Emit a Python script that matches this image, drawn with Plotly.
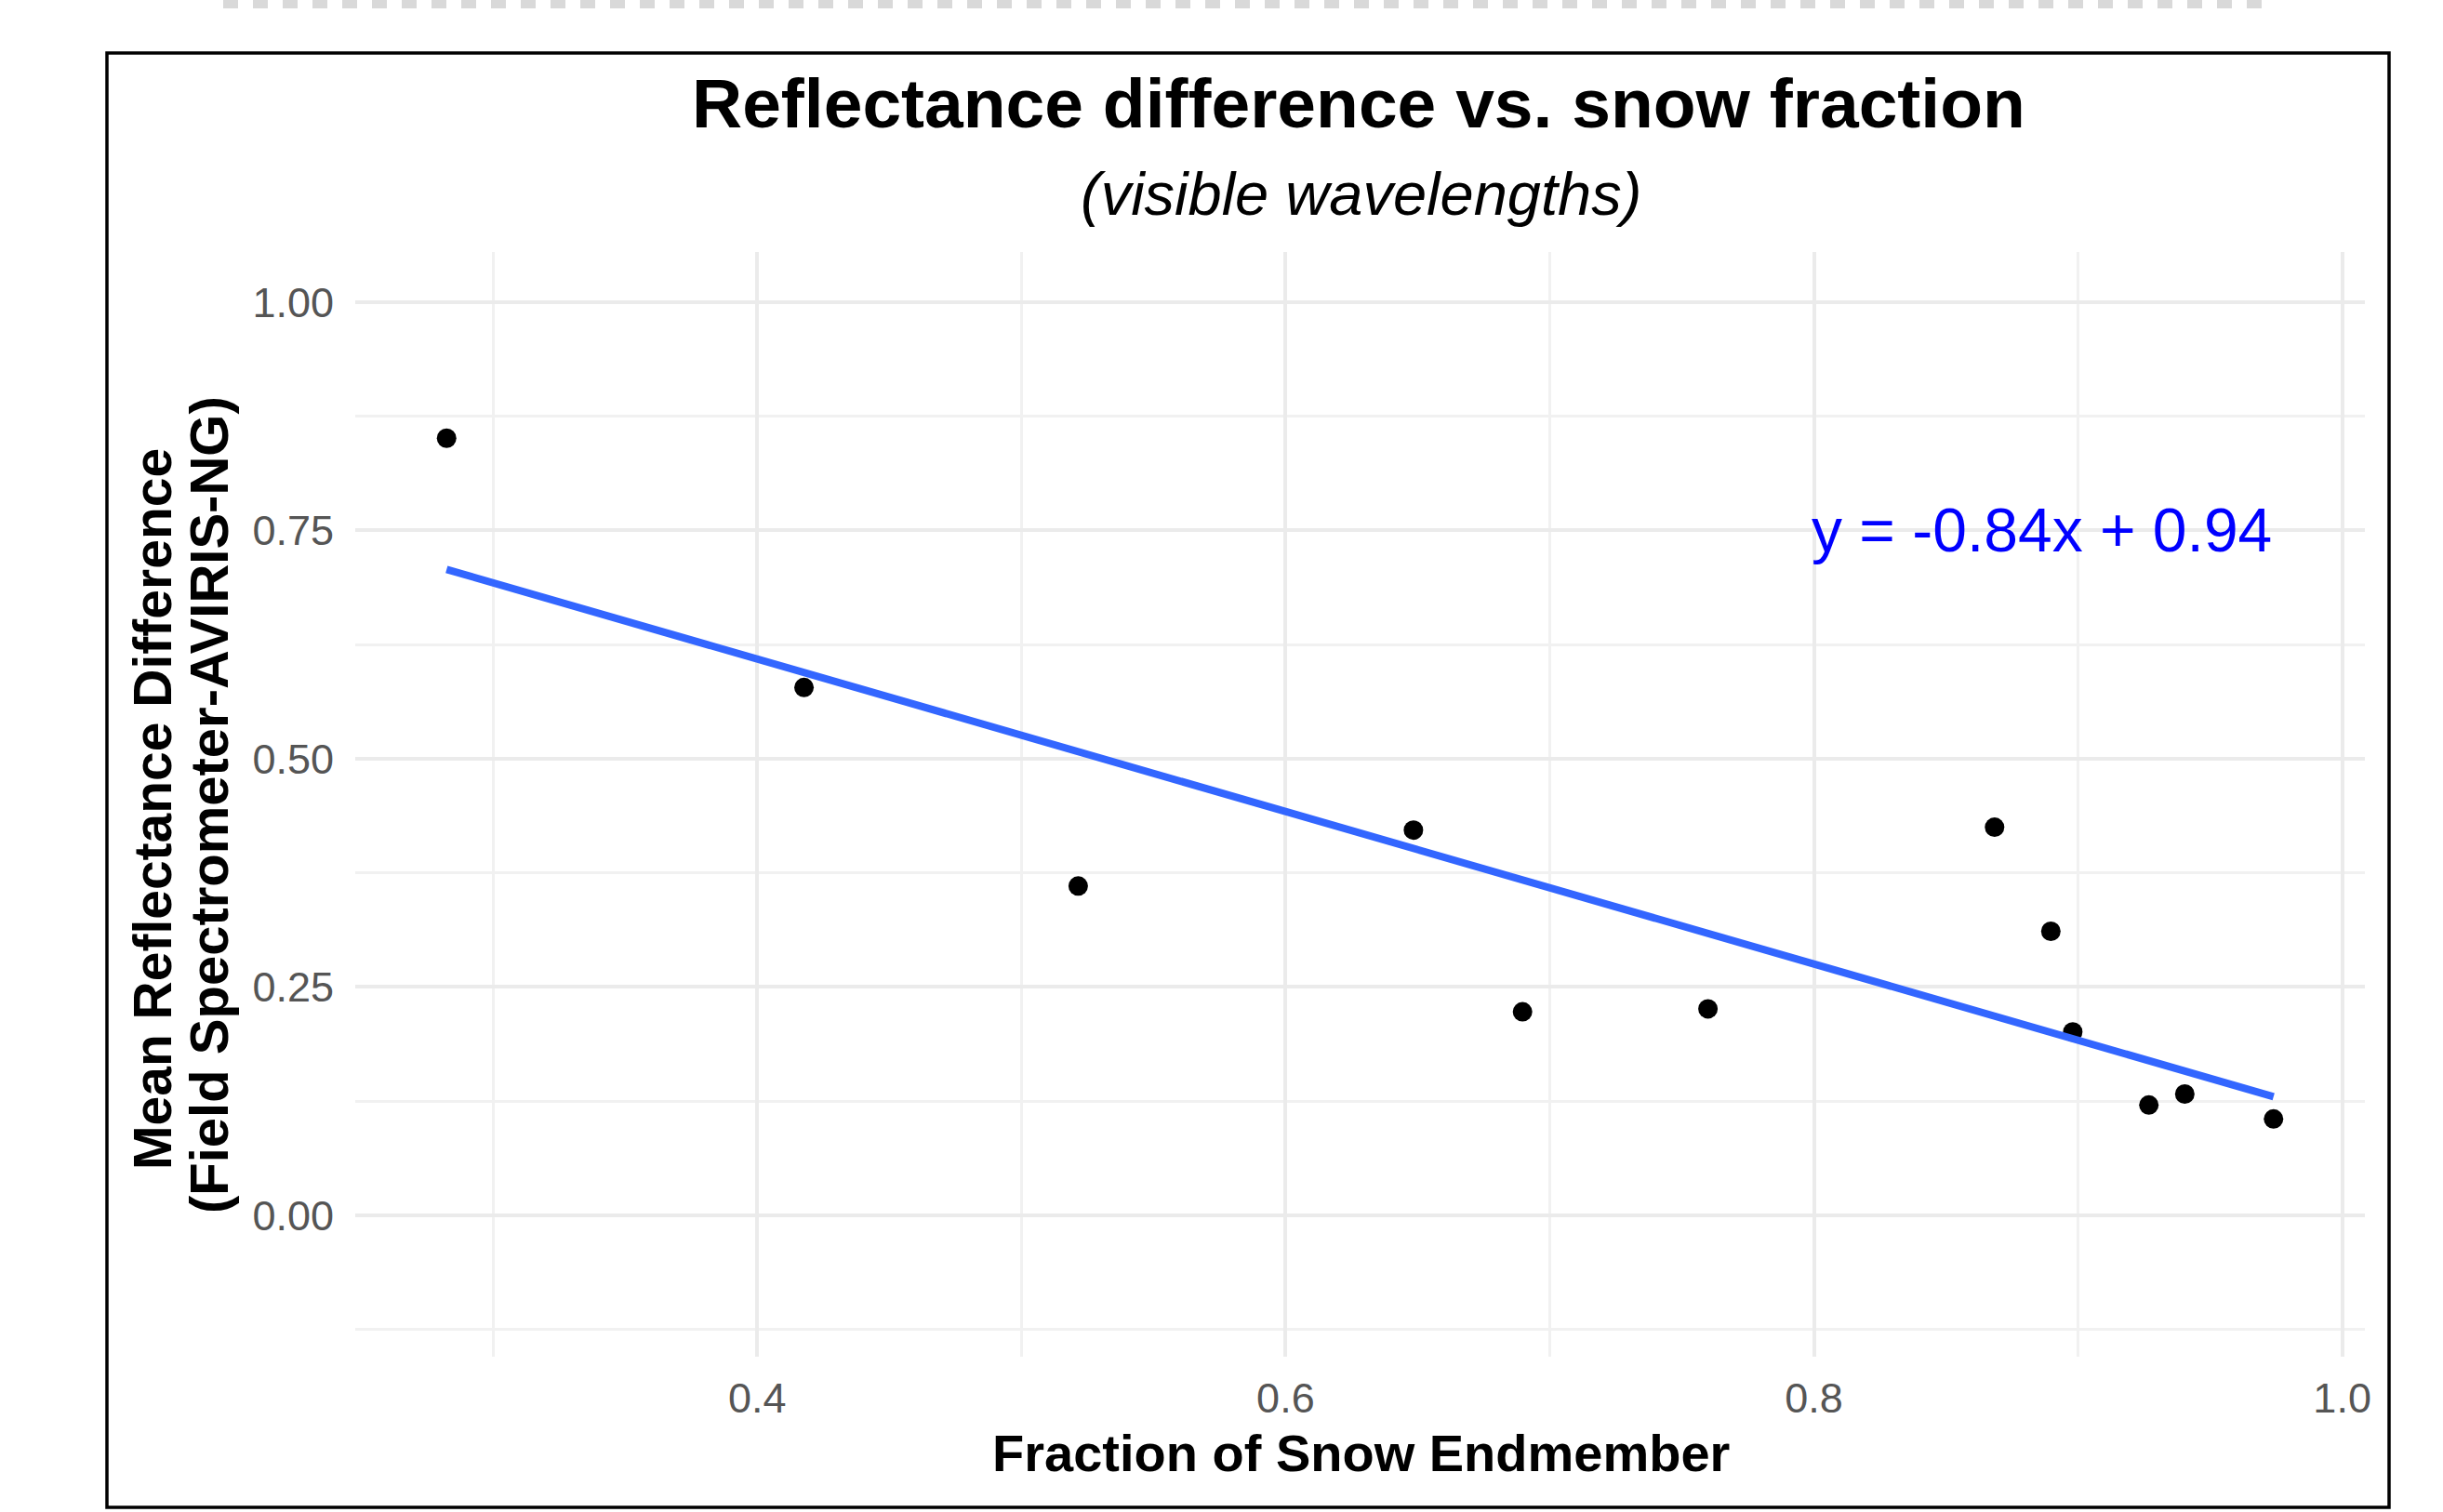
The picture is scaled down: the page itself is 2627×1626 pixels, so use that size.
import numpy as np
import plotly.graph_objects as go

# ---- data ----
snow_fraction = [0.2824, 0.4177, 0.5215, 0.6484, 0.6897, 0.7599,
                 0.8684, 0.8897, 0.8980, 0.9268, 0.9404, 0.9740]
refl_diff = [0.851, 0.578, 0.3605, 0.4218, 0.2228, 0.2260,
             0.4250, 0.3110, 0.2007, 0.1207, 0.1327, 0.1054]
x_ticks = [0.4, 0.6, 0.8, 1.0]
x_tick_labels = ["0.4", "0.6", "0.8", "1.0"]
y_ticks = [0.0, 0.25, 0.5, 0.75, 1.0]
y_tick_labels = ["0.00", "0.25", "0.50", "0.75", "1.00"]
equation_label = "y = -0.84x + 0.94"
title_text = "Reflectance difference vs. snow fraction"
subtitle_text = "(visible wavelengths)"
x_title = "Fraction of Snow Endmember"
y_title_lines = ["Mean Reflectance Difference", "(Field Spectrometer-AVIRIS-NG)"]

# ---- layout geometry (pixels) ----
W, H = 2627, 1626
PL, PR, PT, PB = 382, 2543, 271, 1459


def px2x(px):
    return (px - PL) / (PR - PL)


def py2y(py):
    return (PB - py) / (PB - PT)


FONT = "Liberation Sans, Arial, Helvetica, sans-serif"

x = np.array(snow_fraction)
y = np.array(refl_diff)
slope, intercept = np.polyfit(x, y, 1)
x_line = np.array([x.min(), x.max()])
y_line = slope * x_line + intercept

xr = x.max() - x.min()
x_range = [x.min() - 0.05 * xr, x.max() + 0.05 * xr]
y_lim = [-0.1, 1.0]
yr = y_lim[1] - y_lim[0]
y_range = [y_lim[0] - 0.05 * yr, y_lim[1] + 0.05 * yr]

fig = go.Figure()
fig.add_trace(go.Scatter(x=snow_fraction, y=refl_diff, mode="markers",
                         marker=dict(color="black", size=21, line=dict(width=0)),
                         showlegend=False, hoverinfo="x+y"))
fig.add_trace(go.Scatter(x=x_line, y=y_line, mode="lines",
                         line=dict(color="#3366FF", width=8),
                         showlegend=False, hoverinfo="skip"))

grid_major = "#ebebeb"
grid_minor = "#f1f1f1"

fig.update_layout(
    width=W, height=H,
    margin=dict(l=PL, r=W - PR, t=PT, b=H - PB, pad=0),
    paper_bgcolor="white", plot_bgcolor="white",
    font=dict(family=FONT, color="#4d4d4d"),
    xaxis=dict(range=x_range, tickvals=x_ticks, ticktext=x_tick_labels,
               showgrid=True, gridcolor=grid_major, gridwidth=4,
               zeroline=False, showline=False, ticks="",
               tickfont=dict(size=45, color="#555555", family=FONT),
               ticklabelstandoff=14,
               minor=dict(tickvals=[0.3, 0.5, 0.7, 0.9], showgrid=True,
                          gridcolor=grid_minor, gridwidth=2.5, ticks="")),
    yaxis=dict(range=y_range, tickvals=y_ticks, ticktext=y_tick_labels,
               showgrid=True, gridcolor=grid_major, gridwidth=4,
               zeroline=False, showline=False, ticks="",
               tickfont=dict(size=45, color="#555555", family=FONT),
               ticklabelstandoff=22,
               minor=dict(tickvals=[-0.125, 0.125, 0.375, 0.625, 0.875], showgrid=True,
                          gridcolor=grid_minor, gridwidth=2.5, ticks="")),
)

annotations = [
    dict(text="<b>" + title_text + "</b>", x=px2x(1461), y=py2y(111),
         xref="paper", yref="paper", xanchor="center", yanchor="middle",
         showarrow=False, font=dict(size=75, color="black", family=FONT)),
    dict(text="<i>" + subtitle_text + "</i>", x=px2x(1463), y=py2y(208),
         xref="paper", yref="paper", xanchor="center", yanchor="middle",
         showarrow=False, font=dict(size=65, color="black", family=FONT)),
    dict(text="<b>" + x_title + "</b>", x=px2x(1463), y=py2y(1562),
         xref="paper", yref="paper", xanchor="center", yanchor="middle",
         showarrow=False, font=dict(size=56, color="black", family=FONT)),
    dict(text="<b>" + y_title_lines[0] + "</b>", x=px2x(164), y=py2y(870),
         xref="paper", yref="paper", xanchor="center", yanchor="middle",
         textangle=-90, showarrow=False, font=dict(size=57, color="black", family=FONT)),
    dict(text="<b>" + y_title_lines[1] + "</b>", x=px2x(224), y=py2y(866),
         xref="paper", yref="paper", xanchor="center", yanchor="middle",
         textangle=-90, showarrow=False, font=dict(size=58, color="black", family=FONT)),
    dict(text=equation_label, x=float(x.max()), y=0.75, xref="x", yref="y",
         xanchor="right", yanchor="middle", showarrow=False,
         font=dict(size=66, color="blue", family=FONT)),
]
fig.update_layout(annotations=annotations)

shapes = [
    dict(type="rect", xref="paper", yref="paper",
         x0=px2x(115), x1=px2x(2569), y0=py2y(1621), y1=py2y(57),
         line=dict(color="black", width=3.5), fillcolor="rgba(0,0,0,0)", layer="above"),
    dict(type="line", xref="paper", yref="paper",
         x0=px2x(240), x1=px2x(2438), y0=py2y(4.5), y1=py2y(4.5),
         line=dict(color="#d9d9d9", width=9, dash="16px,16px")),
]
fig.update_layout(shapes=shapes)

fig.write_html("out.html", config={"displayModeBar": False},
               post_script="document.body.style.margin='0';document.body.style.overflow='hidden';")
